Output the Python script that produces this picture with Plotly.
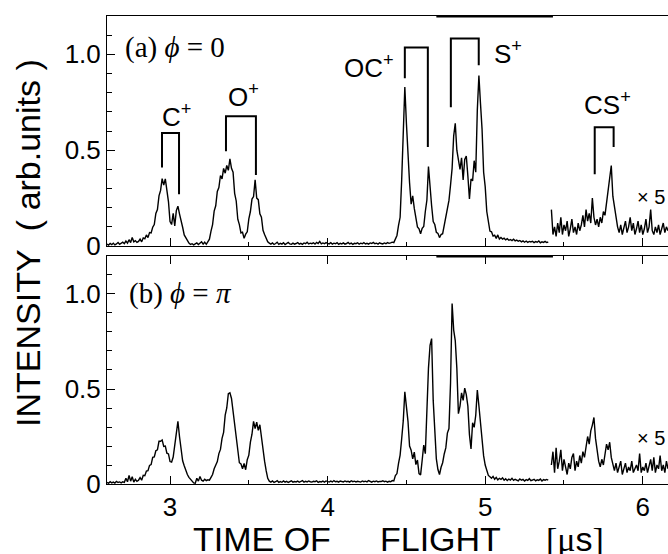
import plotly.graph_objects as go

# ---------------- data ----------------
t_start = 2.60          # first sample of main traces [us]
t_step = 0.01           # sampling step [us]
x5_start = 5.42         # first sample of the x5 traces

# (a) phi = 0, main trace 2.60 .. 5.40
intensity_a = [
    0.010, 0.005, 0.013, 0.007, 0.015, 0.006, 0.011, 0.018, 0.009, 0.014,
    0.020, 0.012, 0.026, 0.015, 0.033, 0.018, 0.045, 0.022, 0.028, 0.019,
    0.024, 0.036, 0.022, 0.042, 0.038, 0.058, 0.044, 0.070, 0.068, 0.098,
    0.112, 0.170, 0.190, 0.262, 0.290, 0.352, 0.318, 0.350, 0.296, 0.232,
    0.128, 0.112, 0.170, 0.105, 0.185, 0.208, 0.168, 0.122, 0.098, 0.058,
    0.045, 0.025, 0.015, 0.008, 0.012, 0.006, 0.010, 0.016, 0.008, 0.013,
    0.022, 0.010, 0.020, 0.009, 0.024, 0.036, 0.078, 0.112, 0.182, 0.210,
    0.285, 0.305, 0.368, 0.350, 0.405, 0.380, 0.420, 0.395, 0.455, 0.405,
    0.385, 0.275, 0.235, 0.140, 0.112, 0.068, 0.072, 0.040, 0.062, 0.074,
    0.142, 0.180, 0.245, 0.258, 0.345, 0.250, 0.242, 0.168, 0.150, 0.082,
    0.060, 0.035, 0.022, 0.015, 0.010, 0.016, 0.008, 0.013, 0.020, 0.009,
    0.014, 0.010, 0.017, 0.008, 0.012, 0.019, 0.011, 0.009, 0.015, 0.010,
    0.013, 0.018, 0.010, 0.014, 0.009, 0.016, 0.012, 0.020, 0.011, 0.015,
    0.012, 0.017, 0.010, 0.019, 0.013, 0.024, 0.011, 0.016, 0.012, 0.018,
    0.014, 0.011, 0.017, 0.010, 0.015, 0.012, 0.018, 0.009, 0.014, 0.011,
    0.016, 0.010, 0.013, 0.019, 0.011, 0.015, 0.009, 0.014, 0.012, 0.017,
    0.010, 0.015, 0.012, 0.018, 0.011, 0.014, 0.010, 0.016, 0.013, 0.019,
    0.012, 0.015, 0.010, 0.017, 0.013, 0.011, 0.016, 0.012, 0.018, 0.014,
    0.016, 0.020, 0.018, 0.036, 0.055, 0.108, 0.150, 0.345, 0.565, 0.830,
    0.640, 0.465, 0.330, 0.218, 0.262, 0.196, 0.148, 0.100, 0.090, 0.064,
    0.092, 0.102, 0.180, 0.240, 0.415, 0.298, 0.210, 0.128, 0.112, 0.072,
    0.066, 0.044, 0.060, 0.064, 0.108, 0.142, 0.200, 0.238, 0.318, 0.405,
    0.575, 0.640, 0.500, 0.455, 0.400, 0.460, 0.345, 0.452, 0.470, 0.365,
    0.245, 0.350, 0.340, 0.445, 0.385, 0.710, 0.890, 0.745, 0.610, 0.385,
    0.310, 0.180, 0.138, 0.078, 0.074, 0.052, 0.056, 0.040, 0.058, 0.036,
    0.044, 0.036, 0.041, 0.032, 0.038, 0.030, 0.034, 0.028, 0.035, 0.027,
    0.031, 0.025, 0.029, 0.022, 0.027, 0.020, 0.026, 0.019, 0.024, 0.021,
    0.025, 0.018, 0.023, 0.020, 0.026, 0.017, 0.022, 0.019, 0.024, 0.018,
    0.021,
]

# (a) x5 trace 5.42 .. 6.16
intensity_a_x5 = [
    0.19, 0.06, 0.10, 0.05, 0.12, 0.07, 0.15, 0.06, 0.11, 0.08,
    0.13, 0.05, 0.09, 0.14, 0.07, 0.10, 0.06, 0.12, 0.08, 0.11,
    0.16, 0.10, 0.19, 0.13, 0.17, 0.12, 0.25, 0.15, 0.11, 0.14,
    0.10, 0.15, 0.12, 0.18, 0.16, 0.22, 0.28, 0.35, 0.42, 0.26,
    0.20, 0.14, 0.10, 0.07, 0.11, 0.06, 0.09, 0.13, 0.07, 0.10,
    0.15, 0.08, 0.12, 0.06, 0.09, 0.13, 0.07, 0.11, 0.06, 0.09,
    0.14, 0.07, 0.10, 0.19, 0.08, 0.06, 0.10, 0.07, 0.11, 0.06,
    0.09, 0.12, 0.07, 0.10, 0.08,
]

# (b) phi = pi, main trace 2.60 .. 5.40
intensity_b = [
    0.008, 0.004, 0.012, 0.006, 0.010, 0.005, 0.014, 0.008, 0.011, 0.006,
    0.012, 0.009, 0.030, 0.012, 0.045, 0.015, 0.038, 0.010, 0.025, 0.014,
    0.020, 0.034, 0.020, 0.046, 0.044, 0.068, 0.070, 0.098, 0.102, 0.140,
    0.142, 0.175, 0.180, 0.225, 0.225, 0.232, 0.198, 0.200, 0.162, 0.158,
    0.118, 0.115, 0.142, 0.210, 0.262, 0.330, 0.250, 0.188, 0.122, 0.096,
    0.070, 0.050, 0.035, 0.025, 0.012, 0.006, 0.004, 0.030, 0.015, 0.040,
    0.020, 0.015, 0.025, 0.018, 0.022, 0.020, 0.035, 0.050, 0.080, 0.100,
    0.118, 0.160, 0.182, 0.240, 0.272, 0.362, 0.400, 0.475, 0.480, 0.450,
    0.380, 0.320, 0.222, 0.168, 0.112, 0.106, 0.080, 0.108, 0.075, 0.128,
    0.152, 0.220, 0.262, 0.330, 0.292, 0.325, 0.282, 0.312, 0.242, 0.205,
    0.120, 0.070, 0.030, 0.015, 0.010, 0.016, 0.008, 0.012, 0.018, 0.009,
    0.013, 0.009, 0.016, 0.010, 0.014, 0.008, 0.012, 0.017, 0.010, 0.013,
    0.011, 0.015, 0.009, 0.013, 0.018, 0.010, 0.014, 0.011, 0.016, 0.012,
    0.010, 0.014, 0.012, 0.017, 0.009, 0.013, 0.011, 0.015, 0.010, 0.016,
    0.012, 0.010, 0.015, 0.011, 0.018, 0.012, 0.014, 0.010, 0.016, 0.013,
    0.011, 0.016, 0.012, 0.014, 0.010, 0.017, 0.012, 0.015, 0.011, 0.014,
    0.013, 0.010, 0.016, 0.012, 0.015, 0.011, 0.018, 0.013, 0.010, 0.015,
    0.012, 0.016, 0.011, 0.014, 0.013, 0.017, 0.012, 0.015, 0.010, 0.014,
    0.012, 0.018, 0.016, 0.044, 0.055, 0.108, 0.152, 0.238, 0.332, 0.485,
    0.410, 0.330, 0.200, 0.178, 0.132, 0.168, 0.102, 0.126, 0.055, 0.048,
    0.125, 0.205, 0.160, 0.430, 0.610, 0.730, 0.765, 0.440, 0.268, 0.132,
    0.076, 0.050, 0.088, 0.112, 0.158, 0.190, 0.268, 0.292, 0.530, 0.950,
    0.810, 0.755, 0.610, 0.370, 0.410, 0.480, 0.440, 0.505, 0.470, 0.410,
    0.260, 0.185, 0.322, 0.298, 0.362, 0.495, 0.412, 0.330, 0.212, 0.148,
    0.100, 0.070, 0.045, 0.038, 0.030, 0.040, 0.025, 0.035, 0.022, 0.030,
    0.024, 0.032, 0.020, 0.028, 0.018, 0.026, 0.021, 0.030, 0.019, 0.025,
    0.022, 0.017, 0.027, 0.020, 0.024, 0.016, 0.023, 0.019, 0.028, 0.018,
    0.021, 0.025, 0.017, 0.022, 0.019, 0.026, 0.016, 0.023, 0.020, 0.024,
    0.020,
]

# (b) x5 trace 5.42 .. 6.16
intensity_b_x5 = [
    0.10, 0.17, 0.06, 0.19, 0.08, 0.12, 0.18, 0.07, 0.13, 0.09,
    0.05, 0.11, 0.08, 0.14, 0.16, 0.07, 0.12, 0.09, 0.15, 0.11,
    0.17, 0.14, 0.20, 0.25, 0.21, 0.28, 0.31, 0.35, 0.24, 0.18,
    0.12, 0.09, 0.13, 0.10, 0.16, 0.21, 0.18, 0.22, 0.14, 0.10,
    0.07, 0.11, 0.06, 0.09, 0.12, 0.05, 0.08, 0.11, 0.06, 0.09,
    0.07, 0.12, 0.06, 0.08, 0.10, 0.07, 0.16, 0.06, 0.09, 0.07,
    0.11, 0.06, 0.09, 0.13, 0.07, 0.14, 0.06, 0.10, 0.08, 0.15,
    0.07, 0.10, 0.06, 0.12, 0.08,
]

# peak labels and brackets (panel a)
peak_labels = ["C<sup>+</sup>", "O<sup>+</sup>", "OC<sup>+</sup>", "S<sup>+</sup>", "CS<sup>+</sup>"]
label_x = [3.04, 3.463, 4.262, 5.143, 5.774]
label_y = [0.682, 0.786, 0.938, 1.008, 0.745]
bracket_x = [[2.949, 2.949, 3.057, 3.057],
             [3.355, 3.355, 3.545, 3.545],
             [4.490, 4.490, 4.636, 4.636],
             [4.782, 4.782, 4.959, 4.959],
             [5.695, 5.695, 5.815, 5.815]]
bracket_y = [[0.41, 0.59, 0.59, 0.27],
             [0.495, 0.677, 0.677, 0.37],
             [0.875, 1.036, 1.036, 0.516],
             [0.724, 1.083, 1.083, 0.943],
             [0.375, 0.62, 0.62, 0.516]]

x_ticks = [3, 4, 5, 6]
y_ticks = [0, 0.5, 1.0]
y_ticktext = ["0", "0.5", "1.0"]

# ---------------- figure ----------------
t_main = [round(t_start + i * t_step, 2) for i in range(len(intensity_a))]
t_x5 = [round(x5_start + i * t_step, 2) for i in range(len(intensity_a_x5))]

SANS = "Liberation Sans, Arial, sans-serif"
SERIF = "Liberation Serif, Times New Roman, serif"
line_style = dict(color="black", width=1.4)

fig = go.Figure()
fig.add_trace(go.Scatter(x=t_main, y=intensity_a, mode="lines", line=line_style, xaxis="x", yaxis="y"))
fig.add_trace(go.Scatter(x=t_x5, y=intensity_a_x5, mode="lines", line=line_style, xaxis="x", yaxis="y"))
fig.add_trace(go.Scatter(x=t_main, y=intensity_b, mode="lines", line=line_style, xaxis="x2", yaxis="y2"))
fig.add_trace(go.Scatter(x=t_x5, y=intensity_b_x5, mode="lines", line=line_style, xaxis="x2", yaxis="y2"))
for bx, by in zip(bracket_x, bracket_y):
    fig.add_trace(go.Scatter(x=bx, y=by, mode="lines", line=dict(color="black", width=2),
                             xaxis="x", yaxis="y"))

xcommon = dict(range=[2.6, 6.16], showgrid=False, zeroline=False, showline=True,
               linecolor="black", linewidth=1, ticks="inside", ticklen=8, tickcolor="black",
               tickvals=x_ticks, ticktext=[str(v) for v in x_ticks],
               minor=dict(tickvals=[3.5, 4.5, 5.5], ticks="inside", ticklen=4, tickcolor="black"),
               tickfont=dict(family=SANS, size=26, color="black"))
ycommon = dict(range=[0, 1.2], showgrid=False, zeroline=False, showline=True,
               linecolor="black", linewidth=1, ticks="inside", ticklen=8, tickcolor="black",
               tickvals=y_ticks, ticktext=y_ticktext,
               minor=dict(tickvals=[0.1, 0.2, 0.3, 0.4, 0.6, 0.7, 0.8, 0.9, 1.1],
                          ticks="inside", ticklen=5, tickcolor="black"),
               tickfont=dict(family=SANS, size=26, color="black"))

fig.update_layout(
    width=668, height=554,
    margin=dict(l=107, r=0, t=16, b=70),
    paper_bgcolor="white", plot_bgcolor="white",
    showlegend=False,
    xaxis=dict(xcommon, anchor="y", mirror=True, showticklabels=False),
    yaxis=dict(ycommon, anchor="x", domain=[0.5085, 1.0]),
    xaxis2=dict(xcommon, anchor="y2", mirror="ticks", showticklabels=True),
    yaxis2=dict(ycommon, anchor="x2", domain=[0.0, 0.4872]),
)

# thicker stretch of the frame lines
fig.add_shape(type="line", x0=4.69, x1=5.43, y0=1.2, y1=1.2, xref="x", yref="y",
              line=dict(color="black", width=3))
fig.add_shape(type="line", x0=4.69, x1=5.43, y0=1.2, y1=1.2, xref="x2", yref="y2",
              line=dict(color="black", width=3))

for txt, lx, ly in zip(peak_labels, label_x, label_y):
    fig.add_annotation(x=lx, y=ly, xref="x", yref="y", text=txt, showarrow=False,
                       font=dict(family=SANS, size=26, color="black"),
                       xanchor="center", yanchor="middle")

fig.add_annotation(x=6.155, y=0.255, xref="x", yref="y", text="× 5", showarrow=False,
                   font=dict(family=SANS, size=20, color="black"), xanchor="right", yanchor="middle")
fig.add_annotation(x=6.155, y=0.242, xref="x2", yref="y2", text="× 5", showarrow=False,
                   font=dict(family=SANS, size=20, color="black"), xanchor="right", yanchor="middle")

fig.add_annotation(x=2.70, y=1.036, xref="x", yref="y", text="(a) <i>ϕ</i> = 0", showarrow=False,
                   font=dict(family=SERIF, size=29, color="black"), xanchor="left", yanchor="middle")
fig.add_annotation(x=2.73, y=1.0, xref="x2", yref="y2", text="(b) <i>ϕ</i> = <i>π</i>", showarrow=False,
                   font=dict(family=SERIF, size=29, color="black"), xanchor="left", yanchor="middle")

# axis titles
fig.add_annotation(x=-0.1408, y=0.515, xref="paper", yref="paper", text="INTENSITY  ( arb.units )",
                   textangle=-90, showarrow=False, font=dict(family=SANS, size=34, color="black"),
                   xanchor="center", yanchor="middle")
fig.add_annotation(x=0.2763, y=-0.118, xref="paper", yref="paper", text="TIME OF",
                   showarrow=False, font=dict(family=SANS, size=34, color="black"),
                   xanchor="center", yanchor="middle")
fig.add_annotation(x=0.5936, y=-0.118, xref="paper", yref="paper", text="FLIGHT",
                   showarrow=False, font=dict(family=SANS, size=34, color="black"),
                   xanchor="center", yanchor="middle")
fig.add_annotation(x=0.834, y=-0.118, xref="paper", yref="paper",
                   text="[μ<span style='font-family:Liberation Sans, Arial, sans-serif'>s</span>]",
                   showarrow=False, font=dict(family=SERIF, size=34, color="black"),
                   xanchor="center", yanchor="middle")

fig.write_html("out.html", config={"displayModeBar": False},
               post_script="document.body.style.margin='0';")
